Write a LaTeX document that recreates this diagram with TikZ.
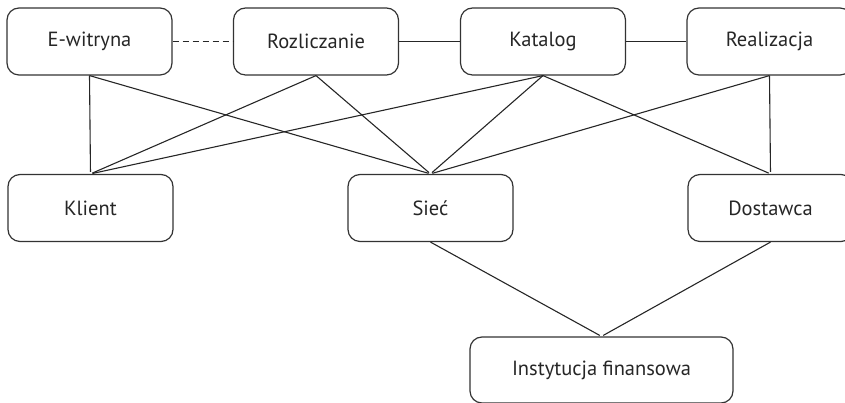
\documentclass[tikz,border=0pt]{standalone}
\usepackage{fontspec}
\setmainfont{PT Sans}
\begin{document}
\begin{tikzpicture}[x=1pt,y=1pt,
  box/.style={draw=black!80, line width=1.2pt, rounded corners=12pt, minimum width=165pt, minimum height=67pt, inner sep=0pt, font=\fontsize{20.5}{24}\selectfont, text=black!85},
  link/.style={draw=black!85, line width=1.1pt},
  dashlink/.style={link, dash pattern=on 6pt off 4pt}]
\useasboundingbox (0,0) rectangle (845,403);
% top row
\node[box] (ew) at (89.5,361.5) {E-witryna};
\node[box] (ro) at (316,361.5) {Rozliczanie};
\node[box] (ka) at (543,361.5) {Katalog};
\node[box] (re) at (769.5,361.5) {Realizacja};
% middle row
\node[box] (kl) at (90.5,195) {Klient};
\node[box] (si) at (430.5,195) {Sieć};
\node[box] (do) at (770.5,195) {Dostawca};
% bottom
\node[box, minimum width=263pt, minimum height=66pt] (in) at (601.5,33) {Instytucja finansowa};
% horizontal links
\draw[dashlink] (ew) -- (ro);
\draw[link] (ro) -- (ka);
\draw[link] (ka) -- (re);
% cross links
\draw[link, shorten >=2pt] (ew.south) -- (kl.north);
\draw[link, shorten >=2pt] (ew.south) -- (si.north);
\draw[link, shorten >=2pt] (ro.south) -- (kl.north);
\draw[link, shorten >=2pt] (ro.south) -- (si.north);
\draw[link, shorten >=2pt] (ka.south) -- (kl.north);
\draw[link, shorten >=2pt] (ka.south) -- (si.north);
\draw[link, shorten >=2pt] (ka.south) -- (do.north);
\draw[link, shorten >=2pt] (re.south) -- (si.north);
\draw[link, shorten >=2pt] (re.south) -- (do.north);
\draw[link, shorten >=2pt] (si.south) -- (in.north);
\draw[link, shorten >=2pt] (do.south) -- (in.north);
\end{tikzpicture}
\end{document}
